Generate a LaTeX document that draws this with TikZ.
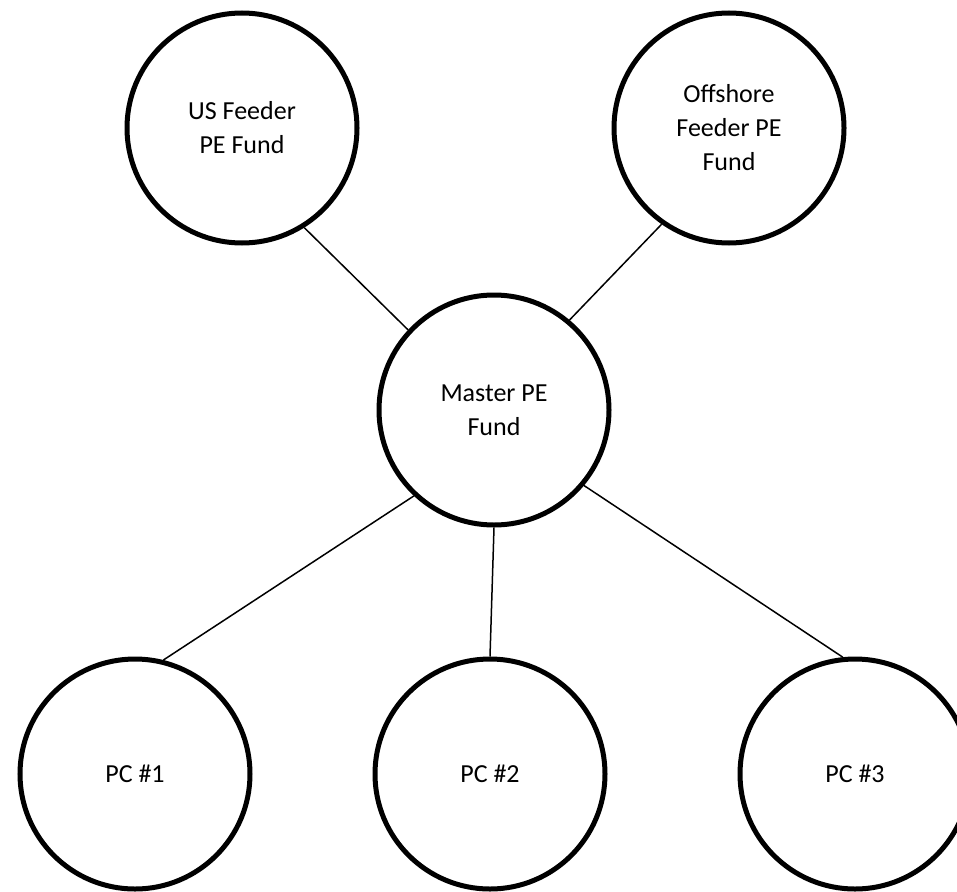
\documentclass[tikz,border=0pt]{standalone}
\usepackage{fontspec}
\setmainfont{Carlito}
\begin{document}
\begin{tikzpicture}[x=1pt,y=-1pt,
  fund/.style={circle, draw, line width=5pt, minimum size=230pt, inner sep=0pt,
    align=center, font=\fontsize{26}{34}\selectfont},
  link/.style={line width=1.5pt}]
\useasboundingbox (0,0) rectangle (957,891);
\clip (0,0) rectangle (957,891);

% funds
\node[fund] (us)       at (242,128) {US Feeder\\PE Fund};
\node[fund] (offshore) at (729,128) {Offshore\\Feeder PE\\Fund};
\node[fund] (master)   at (494,410) {Master PE\\Fund};

% portfolio companies
\node[fund] (pc1) at (135,774) {PC \#1};
\node[fund] (pc2) at (490,774) {PC \#2};
\node[fund] (pc3) at (855,774) {PC \#3};

% links
\draw[link] (us.-58)        -- (master.137.6);
\draw[link] (offshore.235)  -- (master.50);
\draw[link] (master.227.6)  -- (pc1.76.3);
\draw[link] (master.270.5)  -- (pc2.90);
\draw[link] (master.-40.7)  -- (pc3.96.3);
\end{tikzpicture}
\end{document}
